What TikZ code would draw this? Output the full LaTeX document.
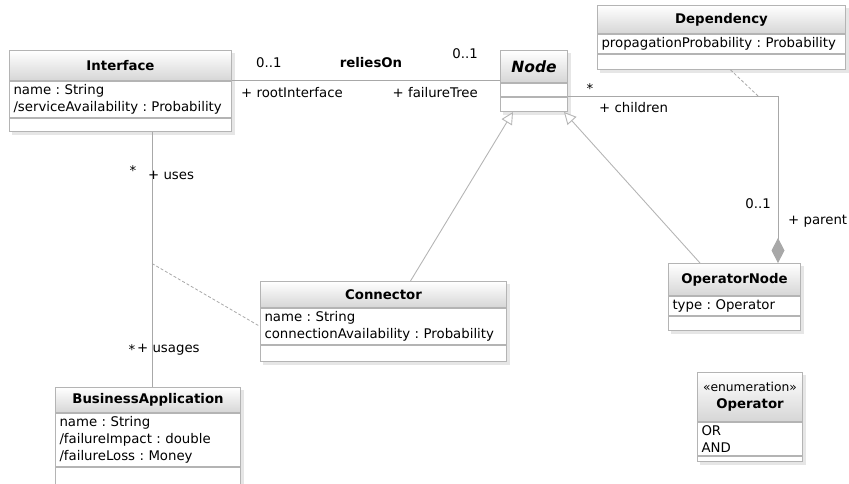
\documentclass[tikz,border=0pt]{standalone}
\usepackage{fontspec}
\setmainfont{DejaVu Sans}
\frenchspacing
\usetikzlibrary{positioning,arrows.meta,calc,backgrounds}

\definecolor{umlline}{HTML}{A8A8A8}
\definecolor{umlborder}{HTML}{B4B4B4}
\definecolor{umlhead}{HTML}{D6D6D6}
\definecolor{umlshadow}{HTML}{E6E6E6}

\tikzset{
  head/.style={rectangle, draw=umlborder, line width=1pt, top color=white, bottom color=umlhead,
    inner sep=0pt, anchor=north west, align=center, font=\fontsize{13.3}{17}\selectfont\bfseries},
  attr/.style={rectangle, draw=umlborder, line width=1pt, fill=white, inner xsep=4pt, inner ysep=3pt,
    anchor=north west, align=left, font=\fontsize{13.3}{17}\selectfont},
  ops/.style={rectangle, draw=umlborder, line width=1pt, fill=white, inner sep=0pt, anchor=north west},
  lbl/.style={inner sep=0pt, font=\fontsize{13.3}{16}\selectfont},
  assoc/.style={draw=umlline, line width=1pt},
  assocdash/.style={draw=umlline, line width=0.8pt, dash pattern=on 3pt off 2pt},
  gen/.style={draw=umlline!85, line width=0.9pt, -{Triangle[open, fill=white, length=12pt, width=12pt]}},
  owner/.style={-{Diamond[fill=umlline, length=25pt, width=13pt]}}
}

% class box: name, north west corner, width, header height, header, attributes, operations height
\newcommand{\umlclass}[7]{
  \node[head, minimum width=#3, minimum height=#4] (#1) at (#2) {#5};
  \node[attr, text width=#3-8] (#1-attr) at (#1.south west) {#6};
  \node[ops, minimum width=#3, minimum height=#7] (#1-ops) at (#1-attr.south west) {};
  \begin{scope}[on background layer]
    \fill[umlshadow] ($(#1.north west)+(3,3)$) rectangle ($(#1-ops.south east)+(3,3)$);
  \end{scope}
}

\begin{document}
\begin{tikzpicture}[x=1pt, y=-1pt]
  \useasboundingbox (0,0) rectangle (849,484);

  % Classes
  \umlclass{iface}{9,50}{222}{30}{Interface}{name : String\\/serviceAvailability : Probability}{13}
  \umlclass{node}{500,50}{67}{32}{{\fontsize{15.5}{17}\selectfont\itshape Node}}{\rule{0pt}{7pt}}{14}
  \umlclass{dep}{597,5}{248}{28}{Dependency}{propagationProbability : Probability}{15}
  \umlclass{opnode}{668,263}{132}{32}{OperatorNode}{type : Operator}{14}
  \umlclass{conn}{260,281}{246}{26}{Connector}{name : String\\connectionAvailability : Probability}{16}
  \umlclass{biz}{55,387}{185}{25}{BusinessApplication}{name : String\\/failureImpact : double\\/failureLoss : Money}{18}
  \umlclass{oper}{697,372}{105}{49}{{\mdseries\fontsize{12.3}{17}\selectfont «enumeration»}\\Operator}{OR\\AND}{5}

  % reliesOn
  \draw[assoc] (iface.south east) -- (iface.south east -| node.west);
  \node[lbl, anchor=west] (relies-m1) at ($(iface.south east)+(24,-18)$) {0..1};
  \node[lbl, font=\fontsize{13.3}{16}\selectfont\bfseries] (relies-name) at ($(iface.south east)+(139,-18)$) {reliesOn};
  \node[lbl, anchor=east] (relies-m2) at ($(node.south west)+(-22,-29)$) {0..1};
  \node[lbl, anchor=west] (relies-r1) at ($(iface.south east)+(9,12)$) {+ rootInterface};
  \node[lbl, anchor=east] (relies-r2) at ($(node.south west)+(-22,10)$) {+ failureTree};

  % children / parent
  \coordinate (parent-end) at ($(opnode.north east)+(-23,0)$);
  \draw[assoc, owner] (node-attr.south east) -| (parent-end) coordinate[pos=0.455] (dep-join);
  \draw[assocdash] ($(dep-ops.south)+(9,0)$) -- (dep-join);
  \node[lbl] (child-m) at ($(node-attr.south east)+(22,-8)$) {*};
  \node[lbl, anchor=west] (child-r) at ($(node-attr.south east)+(31,11)$) {+ children};
  \node[lbl, anchor=east] (parent-m) at ($(parent-end)+(-7,-59)$) {0..1};
  \node[lbl, anchor=west] (parent-r) at ($(parent-end)+(10,-42)$) {+ parent};

  % generalisations
  \draw[gen] ($(conn.north)+(27,0)$) -- ($(node-ops.south west)+(13,0)$);
  \draw[gen] ($(opnode.north west)+(32,0)$) -- ($(node-ops.south east)+(-4,0)$);

  % uses / usages, with Connector as association class
  \draw[assoc] ($(iface-ops.south west)+(143,0)$) coordinate (uses-top)
    -- (uses-top |- biz.north) coordinate (uses-bot) coordinate[pos=0.516] (uses-mid);
  \draw[assocdash] (uses-mid) -- (conn-attr.west);
  \node[lbl] (uses-m) at ($(uses-top)+(-19,39)$) {*};
  \node[lbl, anchor=west] (uses-r) at ($(uses-top)+(-4,44)$) {+ uses};
  \node[lbl] (usages-m) at ($(uses-bot)+(-20,-37)$) {*};
  \node[lbl, anchor=west] (usages-r) at ($(uses-bot)+(-15,-37)$) {+ usages};
\end{tikzpicture}
\end{document}
